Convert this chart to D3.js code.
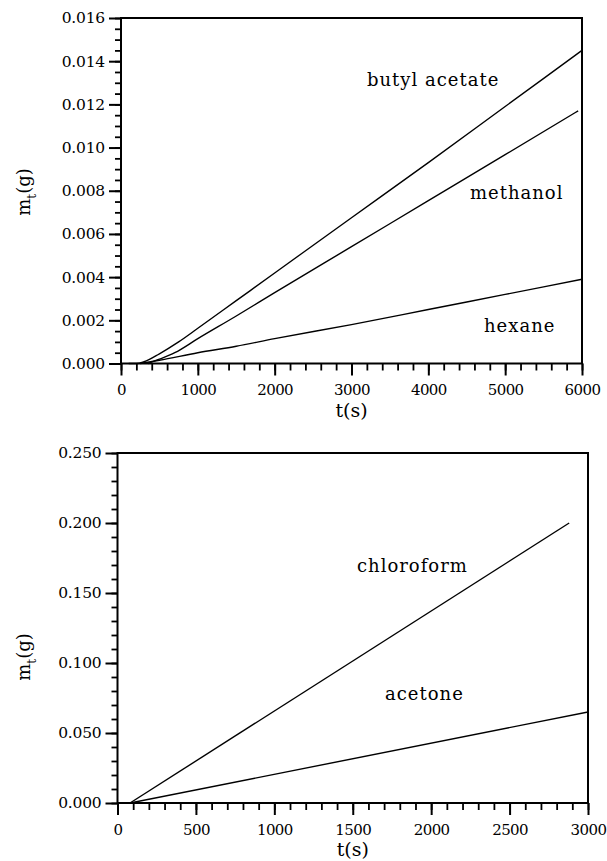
<!DOCTYPE html>
<html>
<head>
<meta charset="utf-8">
<script src="https://cdn.jsdelivr.net/npm/d3@7"></script>
<style>
  body { margin: 0; background: #fff; }
  svg { display: block; }
</style>
</head>
<body>
<div id="chart"></div>
<script>
// upper panel, t(s) vs m_t(g)
var butylAcetate = [[100, 0], [200, 0], [300, 0.00008], [500, 0.00045], [750, 0.0010], [1000, 0.00163], [1500, 0.00291], [2000, 0.00419], [3000, 0.00675], [4000, 0.0093], [5000, 0.0119], [6000, 0.0145]];
var methanol = [[350, 0], [500, 0.0002], [700, 0.0005], [1000, 0.00115], [1500, 0.0022], [2000, 0.00328], [3000, 0.00541], [4000, 0.00754], [5000, 0.00967], [5950, 0.0117]];
var hexane = [[250, 0], [500, 0.00015], [1000, 0.0005], [1500, 0.0008], [2000, 0.00115], [3000, 0.0018], [4000, 0.0025], [5000, 0.0032], [6000, 0.0039]];
var topXTicks = [0, 1000, 2000, 3000, 4000, 5000, 6000];
var topYTicks = [0, 0.002, 0.004, 0.006, 0.008, 0.010, 0.012, 0.014, 0.016];

// lower panel
var chloroform = [[80, 0], [2880, 0.200]];
var acetone = [[80, 0], [3000, 0.065]];
var bottomXTicks = [0, 500, 1000, 1500, 2000, 2500, 3000];
var bottomYTicks = [0, 0.050, 0.100, 0.150, 0.200, 0.250];

var topNames = ["butyl acetate", "methanol", "hexane"];
var bottomNames = ["chloroform", "acetone"];

var FONT = "'DejaVu Serif', 'Liberation Serif'";

var svg = d3.select("#chart").append("svg")
    .attr("width", 607)
    .attr("height", 861)
    .style("font-family", FONT);

function drawPanel(p) {
    var x = d3.scaleLinear().domain(p.xDomain).range([p.left, p.right]);
    var y = d3.scaleLinear().domain(p.yDomain).range([p.bottom, p.top]);
    var g = svg.append("g");

    // minor ticks
    var xMinor = d3.range(p.xDomain[0], p.xDomain[1] + 1e-9, p.xMinor);
    var yMinor = d3.range(0, Math.round(p.yDomain[1] / p.yMinor) + 1).map(function (i) { return i * p.yMinor; });

    g.append("g").attr("transform", "translate(0," + p.bottom + ")")
        .call(d3.axisBottom(x).tickValues(xMinor).tickSize(7).tickSizeOuter(0).tickFormat(""))
        .call(function (a) { a.select(".domain").remove(); a.selectAll("line").attr("stroke-width", 1.8); });
    g.append("g").attr("transform", "translate(" + p.left + ",0)")
        .call(d3.axisLeft(y).tickValues(yMinor).tickSize(6).tickSizeOuter(0).tickFormat(""))
        .call(function (a) { a.select(".domain").remove(); a.selectAll("line").attr("stroke-width", 1.8); });

    // major ticks and labels
    g.append("g").attr("transform", "translate(0," + p.bottom + ")")
        .call(d3.axisBottom(x).tickValues(p.xTicks).tickSize(12).tickSizeOuter(0).tickPadding(9).tickFormat(d3.format("d")))
        .call(function (a) {
            a.select(".domain").remove();
            a.selectAll("line").attr("stroke-width", 2);
            a.selectAll("text").attr("fill", "#000")
                .style("font-family", FONT).style("font-size", "15px").style("letter-spacing", "-0.6px");
        });
    g.append("g").attr("transform", "translate(" + p.left + ",0)")
        .call(d3.axisLeft(y).tickValues(p.yTicks).tickSize(12).tickSizeOuter(0).tickPadding(4).tickFormat(d3.format(".3f")))
        .call(function (a) {
            a.select(".domain").remove();
            a.selectAll("line").attr("stroke-width", 2);
            a.selectAll("text").attr("fill", "#000")
                .style("font-family", FONT).style("font-size", "15.5px").style("letter-spacing", "-0.2px");
        });

    // frame
    g.append("rect")
        .attr("x", p.left).attr("y", p.top)
        .attr("width", p.right - p.left).attr("height", p.bottom - p.top)
        .attr("fill", "none").attr("stroke", "#000").attr("stroke-width", 2);

    // curves
    var line = d3.line().x(function (d) { return x(d[0]); }).y(function (d) { return y(d[1]); }).curve(d3.curveMonotoneX);
    g.selectAll("path.series").data(p.series).enter().append("path")
        .attr("class", "series")
        .attr("d", line)
        .attr("fill", "none").attr("stroke", "#000").attr("stroke-width", 1.4);

    // curve names
    g.selectAll("text.name").data(p.names).enter().append("text")
        .attr("class", "name")
        .attr("x", function (d, i) { return p.namePos[i][0]; })
        .attr("y", function (d, i) { return p.namePos[i][1]; })
        .style("font-family", FONT).style("font-size", "18px").style("letter-spacing", "1px")
        .text(function (d) { return d; });

    // axis titles
    g.append("text")
        .attr("x", (p.left + p.right) / 2).attr("y", p.bottom + 53)
        .attr("text-anchor", "middle")
        .style("font-family", FONT).style("font-size", "19px")
        .text("t(s)");
    var yt = g.append("text")
        .attr("transform", "translate(30," + p.yTitleY + ") rotate(-90)")
        .attr("text-anchor", "middle")
        .style("font-family", FONT).style("font-size", "18px");
    yt.append("tspan").text("m");
    yt.append("tspan").attr("dy", 6).style("font-size", "12px").text("t");
    yt.append("tspan").attr("dy", -6).text("(g)");
}

drawPanel({
    xDomain: [0, 6000], yDomain: [0, 0.016],
    left: 121, right: 582, top: 18, bottom: 363.5,
    xTicks: topXTicks, yTicks: topYTicks, xMinor: 200, yMinor: 0.0005,
    series: [butylAcetate, methanol, hexane],
    names: topNames,
    namePos: [[367, 86], [470, 199], [484, 332]],
    yTitleY: 192
});

drawPanel({
    xDomain: [0, 3000], yDomain: [0, 0.250],
    left: 117.5, right: 588, top: 453, bottom: 803,
    xTicks: bottomXTicks, yTicks: bottomYTicks, xMinor: 100, yMinor: 0.010,
    series: [chloroform, acetone],
    names: bottomNames,
    namePos: [[357, 572], [385, 700]],
    yTitleY: 657
});
</script>
</body>
</html>
